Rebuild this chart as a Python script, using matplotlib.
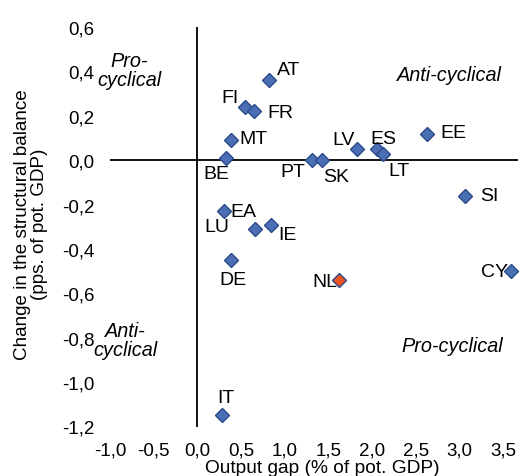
import numpy as np
from matplotlib import pyplot as plt
from matplotlib import rcParams

rcParams["font.family"] = ["Liberation Sans", "DejaVu Sans"]

# data
countries = ["AT", "FI", "FR", "MT", "BE", "PT", "SK", "LV", "ES", "LT",
             "EE", "SI", "EA", "LU", "IE", "DE", "NL", "CY", "IT"]
output_gap = [0.82, 0.55, 0.65, 0.39, 0.33, 1.31, 1.42, 1.83, 2.06, 2.12,
              2.63, 3.06, 0.31, 0.66, 0.84, 0.39, 1.62, 3.59, 0.28]
sb_change = [0.36, 0.24, 0.22, 0.09, 0.01, 0.00, 0.00, 0.05, 0.05, 0.03,
             0.12, -0.16, -0.23, -0.31, -0.29, -0.45, -0.54, -0.50, -1.15]
highlight = "NL"

xticks = [-1.0, -0.5, 0.0, 0.5, 1.0, 1.5, 2.0, 2.5, 3.0, 3.5]
yticks = [0.6, 0.4, 0.2, 0.0, -0.2, -0.4, -0.6, -0.8, -1.0, -1.2]

# label offsets in pixels (dx right, dy down) relative to the marker
label_px = {
    "AT": (20, -11), "FI": (-15, -9), "FR": (26, 1), "MT": (22, -2),
    "BE": (-10, 16), "PT": (-19, 11), "SK": (15, 16), "LV": (-14, -10),
    "ES": (6, -11), "LT": (16, 17), "EE": (26, -1), "SI": (24, 0),
    "EA": (19, 0), "LU": (-38, -2), "IE": (17, 10), "DE": (1, 19),
    "NL": (-14, 1), "CY": (-17, 0), "IT": (4, -18),
}

BLUE = "#4a6fb5"
BLUE_EDGE = "#2c4a8a"
ORANGE = "#e8531f"

fig = plt.figure(figsize=(5.28, 4.77), dpi=100)
ax = fig.add_axes([110 / 528, 1 - 427.5 / 477, 408 / 528, 399.5 / 477])
ax.set_xlim(-1.0, 3.668)
ax.set_ylim(-1.2, 0.6)
for s in ax.spines.values():
    s.set_visible(False)
ax.axhline(0, color="k", lw=1.3, zorder=1)
ax.axvline(0, color="k", lw=1.3, zorder=1)

for c, x, y in zip(countries, output_gap, sb_change):
    fc = ORANGE if c == highlight else BLUE
    ax.plot(x, y, "D", ms=7.6, mfc=fc, mec=BLUE_EDGE, mew=1.0, zorder=3)
    dx, dy = label_px[c]
    ax.annotate(c, (x, y), xytext=(dx * 0.72, -dy * 0.72),
                textcoords="offset points", ha="center", va="center",
                fontsize=14, zorder=4)

ax.set_xticks(xticks)
ax.set_yticks(yticks)
ax.set_xticklabels([f"{t:.1f}".replace(".", ",") for t in xticks])
ax.set_yticklabels([f"{t:.1f}".replace(".", ",") for t in yticks])
ax.tick_params(length=0, labelsize=13.5)
ax.tick_params(axis="y", pad=11)
ax.tick_params(axis="x", pad=10.5)

ax.set_xlabel("Output gap (% of pot. GDP)", fontsize=13.8)
ax.xaxis.set_label_coords(0.521, -0.082)
ax.set_ylabel("Change in the structural balance\n(pps. of pot. GDP)",
              fontsize=13.6, linespacing=1.0)
ax.yaxis.set_label_coords(-0.152, 0.509)

quad = dict(fontsize=14.3, style="italic", ha="center", va="center",
            linespacing=1.0)
ax.text(-0.78, 0.405, "Pro-\ncyclical", **quad)
ax.text(2.88, 0.387, "Anti-cyclical", **quad)
ax.text(-0.82, -0.81, "Anti-\ncyclical", **quad)
ax.text(2.92, -0.833, "Pro-cyclical", **quad)

fig.savefig("out.png", dpi=100)
